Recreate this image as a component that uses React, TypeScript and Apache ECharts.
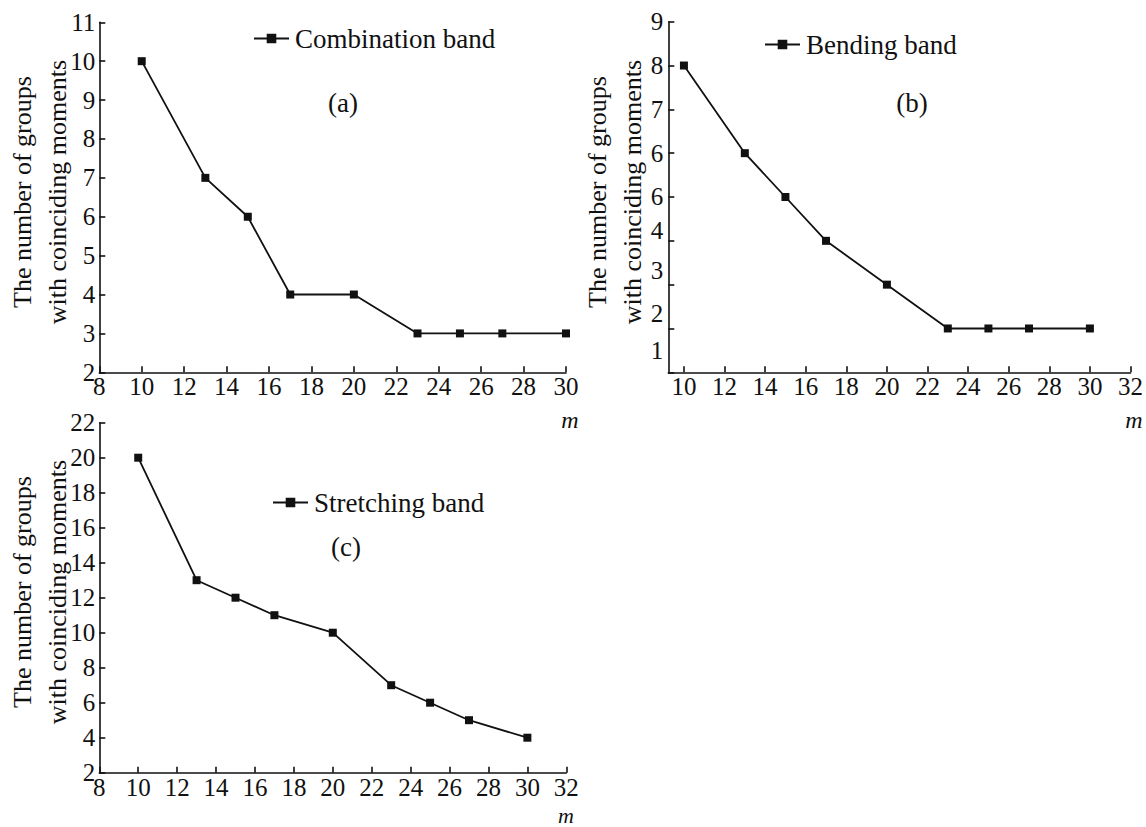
import React, { useEffect, useRef } from "react";
import * as echarts from "echarts";

// ---- data ----
const mValues = [10, 13, 15, 17, 20, 23, 25, 27, 30];
const combinationBand = [10, 7, 6, 4, 4, 3, 3, 3, 3];
const bendingBand = [8, 6, 5, 4, 3, 2, 2, 2, 2];
const stretchingBand = [20, 13, 12, 11, 10, 7, 6, 5, 4];

const seriesNames = ["Combination band", "Bending band", "Stretching band"];
const panelTags = ["(a)", "(b)", "(c)"];
const bendingXTicks = [10, 12, 14, 16, 18, 20, 22, 24, 26, 28, 30, 32];
// tick labels of panel (b) exactly as printed in the reference (value -> text)
const bendingYTickValues = [1, 2, 3, 4, 5, 6, 7, 8, 9];
const bendingYTickTexts = ["1", "2", "3", "4", "6", "6", "7", "8", "9"];
const yAxisTitle = "The number of groups\nwith coinciding moments";
const xAxisTitle = "m";

// ---- styles ----
const FONT = "'Liberation Serif', 'Times New Roman', serif";
const INK = "#111111";
// upward shift (px) of the lower tick labels in panel (b), as printed
const bendingLabelShift: Record<number, number> = { 1: 22, 2: 15, 3: 14, 4: 10, 5: 1 };

const toPairs = (ys: number[]) => mValues.map((m, i) => [m, ys[i]]);

export default function App() {
  const ref = useRef<HTMLDivElement>(null);

  useEffect(() => {
    if (!ref.current) return;
    const chart = echarts.init(ref.current, undefined, { renderer: "svg" });

    const axisLine = { show: true, lineStyle: { color: INK, width: 1.6 } };
    const axisTick = { show: true, inside: true, length: 6, lineStyle: { color: INK, width: 1.6 } };
    const labelStyle = { fontFamily: FONT, fontSize: 25, color: INK };

    const richShift: Record<string, any> = {};
    bendingYTickValues.forEach((v) => {
      const s = bendingLabelShift[v] || 0;
      richShift["v" + v] = { ...labelStyle, padding: [0, 0, 2 * s, 0] };
    });

    const xBase = (gridIndex: number, min: number, max: number) => ({
      type: "value",
      gridIndex,
      min,
      max,
      axisLine,
      axisTick,
      splitLine: { show: false },
      axisLabel: { ...labelStyle, margin: 2 },
    });

    const yBase = (gridIndex: number, min: number, max: number, interval: number) => ({
      type: "value",
      gridIndex,
      min,
      max,
      interval,
      axisLine,
      axisTick,
      splitLine: { show: false },
      axisLabel: { ...labelStyle, margin: 4 },
    });

    const lineSeries = (name: string, idx: number, ys: number[]) => ({
      type: "line",
      name,
      xAxisIndex: idx,
      yAxisIndex: idx,
      data: toPairs(ys),
      symbol: "rect",
      symbolSize: 8,
      lineStyle: { color: INK, width: 1.8 },
      itemStyle: { color: INK },
    });

    const legendBase = (name: string, left: number, top: number) => ({
      data: [name],
      left,
      top,
      itemWidth: 35,
      itemHeight: 12,
      padding: 0,
      textStyle: { fontFamily: FONT, fontSize: 27, color: INK, padding: [0, 0, 0, 1] },
      selectedMode: false,
    });

    const tag = (text: string, x: number, y: number) => ({
      type: "text",
      x,
      y,
      style: {
        text,
        font: `27px ${FONT}`,
        fill: INK,
        textAlign: "center",
        textVerticalAlign: "middle",
      },
    });

    const yTitle = (x: number, y: number) => ({
      type: "text",
      x,
      y,
      rotation: Math.PI / 2,
      style: {
        text: yAxisTitle,
        font: `26px ${FONT}`,
        lineHeight: 35,
        fill: INK,
        textAlign: "center",
        textVerticalAlign: "middle",
      },
    });

    const mTitle = (x: number, y: number, size: number) => ({
      type: "text",
      x,
      y,
      style: {
        text: xAxisTitle,
        font: `italic ${size}px ${FONT}`,
        fill: INK,
        textAlign: "center",
        textVerticalAlign: "middle",
      },
    });

    const option: any = {
      animation: false,
      backgroundColor: "#ffffff",
      grid: [
        { left: 99.3, top: 22.3, width: 466.7, height: 350 },
        { left: 668.3, top: 21.7, width: 462.7, height: 350.6 },
        { left: 99.3, top: 422.7, width: 467, height: 350 },
      ],
      xAxis: [
        { ...xBase(0, 8, 30), interval: 2 },
        {
          ...xBase(1, 9.23, 32),
          axisTick: { ...axisTick, customValues: bendingXTicks },
          axisLabel: { ...labelStyle, margin: 2, customValues: bendingXTicks },
        },
        { ...xBase(2, 8, 32), interval: 2 },
      ],
      yAxis: [
        yBase(0, 2, 11, 1),
        {
          ...yBase(1, 1, 9, 1),
          axisLabel: {
            ...labelStyle,
            margin: 5,
            formatter: (v: number) => {
              const i = bendingYTickValues.indexOf(Math.round(v));
              return i >= 0 ? `{v${bendingYTickValues[i]}|${bendingYTickTexts[i]}}` : "";
            },
            rich: richShift,
          },
        },
        yBase(2, 2, 22, 2),
      ],
      legend: [
        legendBase(seriesNames[0], 253, 25),
        legendBase(seriesNames[1], 764, 31),
        legendBase(seriesNames[2], 272, 489),
      ],
      series: [
        lineSeries(seriesNames[0], 0, combinationBand),
        lineSeries(seriesNames[1], 1, bendingBand),
        lineSeries(seriesNames[2], 2, stretchingBand),
      ],
      graphic: [
        yTitle(39.5, 192),
        yTitle(615, 192),
        yTitle(39.5, 592),
        tag(panelTags[0], 343, 103),
        tag(panelTags[1], 912, 103),
        tag(panelTags[2], 346, 547),
        mTitle(570, 420, 24),
        mTitle(1134, 420, 24),
        mTitle(566, 815, 22),
      ],
    };

    chart.setOption(option);
    return () => chart.dispose();
  }, []);

  return (
    <div
      ref={ref}
      style={{ position: "absolute", left: 0, top: 0, width: 1146, height: 827 }}
    />
  );
}
